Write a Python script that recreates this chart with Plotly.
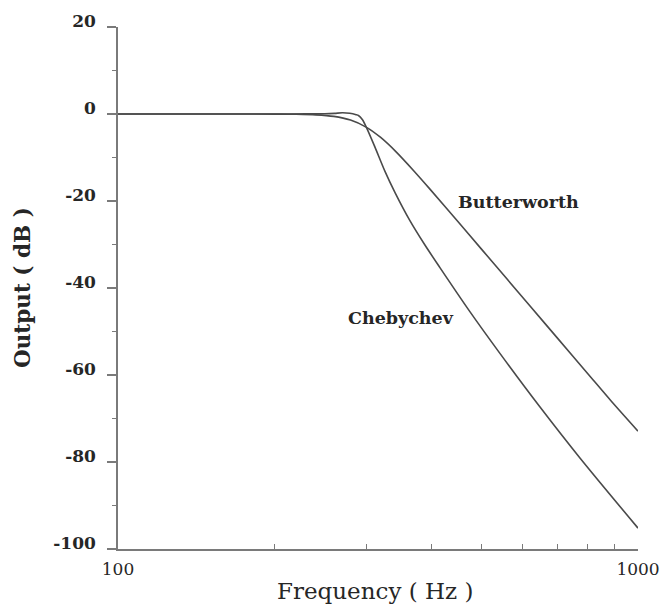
import math
import plotly.graph_objects as go

# Frequency response of two low-pass filters (magnitude in dB)
butter_freq = [100, 150, 200, 220, 240, 260, 280, 300, 320, 343, 370, 398, 450,
               500, 560, 620, 700, 800, 887, 1000]
butter_db = [0.0, 0.0, -0.02, -0.06, -0.19, -0.55, -1.40, -3.01, -5.40, -8.76, -12.98,
             -17.27, -24.67, -31.06, -37.95, -44.14, -51.52, -59.64, -65.91, -72.9]

cheby_freq = [100, 150, 200, 230, 250, 261, 270, 279, 287, 290, 295, 301, 312, 326,
              341, 364, 389, 416, 475, 543, 648, 774, 1000]
cheby_db = [0.0, 0.0, 0.0, 0.02, 0.05, 0.15, 0.28, 0.18, -0.15, -0.35, -1.26, -3.29,
            -7.61, -13.13, -18.07, -24.46, -30.07, -35.31, -45.43, -55.08, -67.36,
            -79.13, -95.2]

y_ticks = [-100, -80, -60, -40, -20, 0, 20]
y_tick_text = ["-100", "-80", "-60", "-40", "-20", "0", "20"]
x_ticks = [100, 1000]
x_tick_text = ["100", "1000"]
x_minor = [200, 300, 400, 500, 600, 700, 800, 900]

curve_labels = ["Butterworth", "Chebychev"]
label_freq = [588, 350]
label_db = [-20.2, -46.9]

LINE = "#4a4a4a"
AXIS = "#7a7a7a"
TEXT = "#262626"
SERIF = "DejaVu Serif, Liberation Serif, serif"

fig = go.Figure()
fig.add_trace(go.Scatter(x=butter_freq, y=butter_db, mode="lines",
                         line=dict(color=LINE, width=1.6, shape="spline", smoothing=0.8),
                         name=curve_labels[0], showlegend=False))
fig.add_trace(go.Scatter(x=cheby_freq, y=cheby_db, mode="lines",
                         line=dict(color=LINE, width=1.6, shape="spline", smoothing=0.8),
                         name=curve_labels[1], showlegend=False))

# Curve labels (annotation x on a log axis is given as log10 of the frequency)
for txt, fx, fy in zip(curve_labels, label_freq, label_db):
    fig.add_annotation(x=math.log10(fx), y=fy, xref="x", yref="y", text=txt,
                       showarrow=False, xanchor="center", yanchor="middle",
                       font=dict(family=SERIF, size=17.5, color=TEXT, weight="bold"))

fig.update_xaxes(type="log", range=[2, 3], showgrid=False, zeroline=False,
                 showline=True, linecolor=AXIS, linewidth=1.5,
                 tickmode="array", tickvals=x_ticks, ticktext=x_tick_text,
                 ticks="inside", ticklen=8, tickwidth=1.2, tickcolor=AXIS,
                 minor=dict(tickmode="array", tickvals=x_minor, ticks="inside",
                            ticklen=5, tickwidth=1.2, tickcolor=AXIS, showgrid=False),
                 tickfont=dict(family=SERIF, size=17, color=TEXT),
                 ticklabelstandoff=4)

fig.update_yaxes(range=[-100, 20], showgrid=False, zeroline=False,
                 showline=True, linecolor=AXIS, linewidth=1.5,
                 tickmode="array", tickvals=y_ticks, ticktext=y_tick_text,
                 ticks="outside", ticklen=9, tickwidth=1.5, tickcolor=AXIS,
                 minor=dict(dtick=10, ticks="outside", ticklen=4, tickwidth=1.2,
                            tickcolor=AXIS, showgrid=False),
                 tickfont=dict(family=SERIF, size=17, color=TEXT, weight="bold"),
                 ticklabelstandoff=8, ticklabelshift=-6)

# Axis titles
fig.add_annotation(x=0.494, y=-0.080, xref="paper", yref="paper",
                   text="Frequency ( Hz )", showarrow=False,
                   xanchor="center", yanchor="middle",
                   font=dict(family=SERIF, size=23, color=TEXT))
fig.add_annotation(x=-0.1846, y=0.50, xref="paper", yref="paper",
                   text="Output ( dB )", showarrow=False, textangle=-90,
                   xanchor="center", yanchor="middle",
                   font=dict(family=SERIF, size=21.5, color=TEXT, weight="bold"))

fig.update_layout(width=664, height=605,
                  margin=dict(l=118, r=26, t=27, b=56, autoexpand=False),
                  plot_bgcolor="white", paper_bgcolor="white")

fig.write_html("out.html")
